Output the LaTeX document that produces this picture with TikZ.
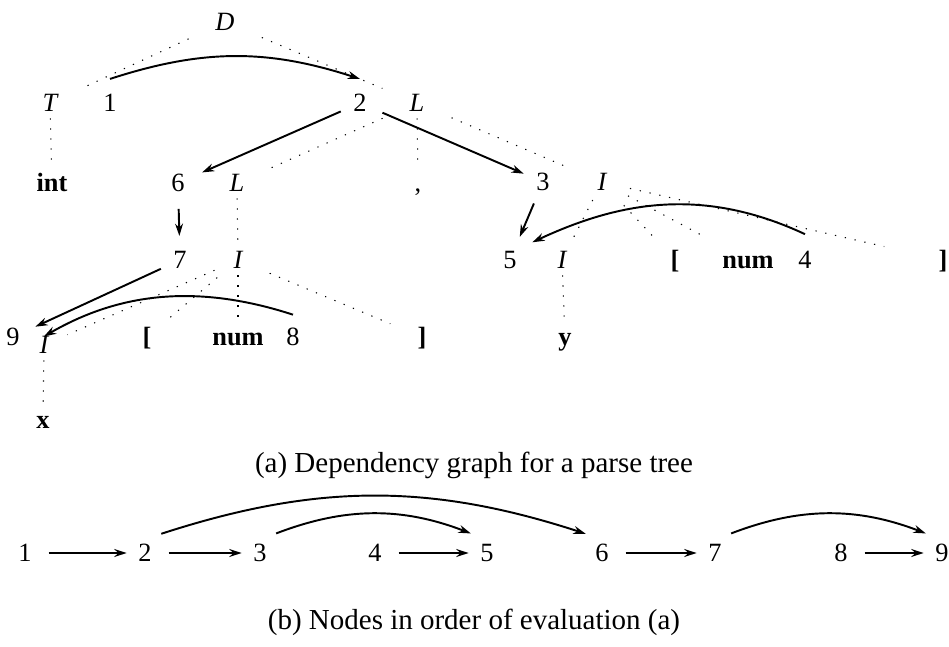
\documentclass[tikz,border=0pt]{standalone}
\usepackage{fontspec}
\setmainfont{Liberation Serif}
\usetikzlibrary{arrows.meta}
\newcommand\figfont{\fontsize{15pt}{18pt}\selectfont}

\begin{document}
\begin{tikzpicture}[font=\figfont,
  lbl/.style={inner sep=1.5pt, text height=10pt, text depth=0pt},
  att/.style={lbl},
  nt/.style={lbl, font=\figfont\itshape},
  tm/.style={lbl, font=\figfont\bfseries},
  figcap/.style={font=\fontsize{16.5pt}{19pt}\selectfont},
  tr/.style={line width=0.6pt, dash pattern=on 0.7pt off 5pt,
             shorten <=#1, shorten >=#1},
  tr/.default=2pt,
  dep/.style={-{Stealth[length=7pt,width=4.5pt]}, line width=1.1pt}
]
  \useasboundingbox (0,0) rectangle (18.98,12.92);

  % parse tree
  \node[nt]  (D)     at (4.50,12.48) {D};
  \node[nt]  (T)     at (1.00,10.86) {T};
  \node[att] (a1)    at (2.20,10.86) {1};
  \node[att] (a2)    at (7.20,10.86) {2};
  \node[nt]  (L1)    at (8.34,10.86) {L};
  \node[tm]  (int)   at (1.04, 9.26) {int};
  \node[att] (a6)    at (3.56, 9.26) {6};
  \node[nt]  (L2)    at (4.74, 9.26) {L};
  \node[lbl] (comma) at (8.36, 9.26) {,};
  \node[att] (a3)    at (10.86,9.28) {3};
  \node[nt]  (I1)    at (12.04,9.28) {I};
  \node[att] (a7)    at (3.60, 7.72) {7};
  \node[nt]  (I2)    at (4.76, 7.72) {I};
  \node[att] (a5)    at (10.20,7.72) {5};
  \node[nt]  (I3)    at (11.24,7.72) {I};
  \node[tm]  (lb1)   at (13.50,7.72) {[};
  \node[tm]  (num1)  at (14.96,7.72) {num};
  \node[att] (a4)    at (16.10,7.72) {4};
  \node[tm]  (rb1)   at (18.86,7.72) {]};
  \node[att] (a9)    at (0.26, 6.18) {9};
  \node[nt]  (I4)    at (0.88, 6.02) {I};
  \node[tm]  (lb2)   at (2.94, 6.18) {[};
  \node[tm]  (num2)  at (4.76, 6.18) {num};
  \node[att] (a8)    at (5.86, 6.18) {8};
  \node[tm]  (rb2)   at (8.44, 6.18) {]};
  \node[tm]  (yy)    at (11.30,6.18) {y};
  \node[tm]  (xx)    at (0.86, 4.52) {x};

  \draw[tr=15pt] (D) -- (T);
  \draw[tr=15pt] (D) -- (L1);
  \draw[tr] (T) -- (int);
  \draw[tr=15pt] (L1) -- (L2);
  \draw[tr] (L1) -- (comma);
  \draw[tr=15pt] (L1) -- (I1);
  \draw[tr] (L2) -- (I2);
  \draw[tr=10pt] (I2) -- (I4);
  \draw[tr=10pt] (I2) -- (lb2);
  \draw[tr] (I2) -- (num2);
  \draw[tr=15pt] (I2) -- (rb2);
  \draw[tr] (I4) -- (xx);
  \draw[tr=4pt] (I1) -- (I3);
  \draw[tr=12pt] (I1) -- (lb1);
  \draw[tr=12pt] (I1) -- (num1);
  \draw[tr=12pt, shorten >=30pt] (I1) -- (rb1);
  \draw[tr] (I3) -- (yy);

  % dependency edges
  \draw[dep] ([yshift=7pt]a1.north) to[bend left=18] ([yshift=7pt]a2.north);
  \draw[dep, shorten <=6pt, shorten >=9pt] (a2) -- (a6);
  \draw[dep, shorten <=8pt, shorten >=6pt] (a2) -- (a3);
  \draw[dep, shorten <=8pt, shorten >=7pt] (a6) -- (a7);
  \draw[dep, shorten <=6pt, shorten >=8pt] (a7) -- (a9);
  \draw[dep, shorten >=14pt] ([yshift=6pt]a8.north) to[out=162, in=30] (a9.south east);
  \draw[dep, shorten <=6pt, shorten >=7pt] (a3) -- (a5);
  \draw[dep, shorten >=8pt] ([yshift=8pt]a4.north) to[out=155, in=25] (a5.north east);

  \node[figcap] (capa) at (9.48,3.62) {(a) Dependency graph for a parse tree};

  % evaluation order
  \node[att] (b1) at (0.50,1.86) {1};
  \node[att] (b2) at (2.90,1.86) {2};
  \node[att] (b3) at (5.20,1.86) {3};
  \node[att] (b4) at (7.50,1.86) {4};
  \node[att] (b5) at (9.74,1.86) {5};
  \node[att] (b6) at (12.04,1.86) {6};
  \node[att] (b7) at (14.30,1.86) {7};
  \node[att] (b8) at (16.82,1.86) {8};
  \node[att] (b9) at (18.84,1.86) {9};

  \draw[dep, shorten <=8pt, shorten >=5pt] (b1) -- (b2);
  \draw[dep, shorten <=8pt, shorten >=5pt] (b2) -- (b3);
  \draw[dep, shorten <=8pt, shorten >=5pt] (b4) -- (b5);
  \draw[dep, shorten <=8pt, shorten >=5pt] (b6) -- (b7);
  \draw[dep, shorten <=8pt, shorten >=5pt] (b8) -- (b9);
  \draw[dep, shorten <=4pt, shorten >=4pt] ([yshift=3pt]b2.north east) to[out=18, in=162] ([yshift=3pt]b6.north west);
  \draw[dep, shorten <=4pt, shorten >=4pt] ([yshift=3pt]b3.north east) to[out=21, in=159] ([yshift=3pt]b5.north west);
  \draw[dep, shorten <=4pt, shorten >=4pt] ([yshift=3pt]b7.north east) to[out=21, in=159] ([yshift=3pt]b9.north west);

  \node[figcap] (capb) at (9.48,0.48) {(b) Nodes in order of evaluation (a)};
\end{tikzpicture}
\end{document}
